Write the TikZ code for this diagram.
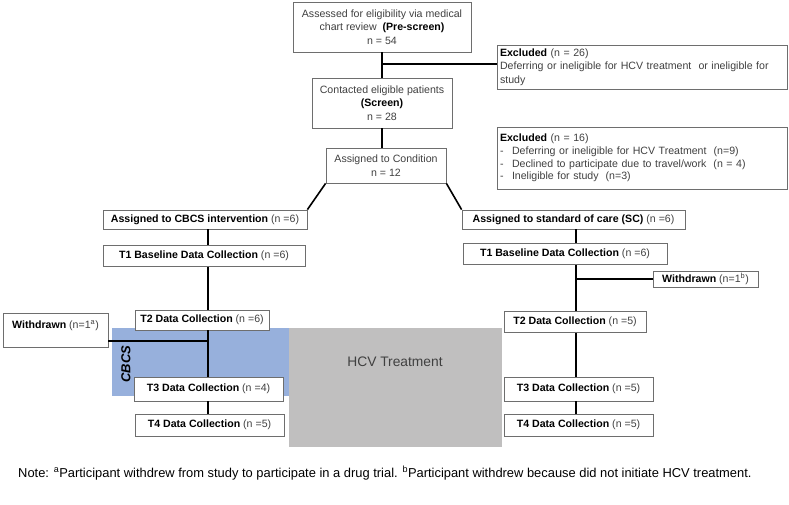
\documentclass[tikz,border=0pt]{standalone}
\usepackage{fontspec}
\setmainfont{Liberation Sans}
\definecolor{boxgray}{HTML}{6E6E6E}
\definecolor{txtgray}{HTML}{404040}
\definecolor{cbcsblue}{HTML}{97B0DC}
\definecolor{hcvgray}{HTML}{C0BFBF}
\newcommand{\nb}[1]{\textcolor{black}{\textbf{#1}}}
\begin{document}
\begin{tikzpicture}[x=1pt,y=-1pt,
  box/.style={draw=boxgray, line width=0.8pt, fill=white, inner sep=2pt,
    font=\fontsize{10.6}{13.5}\selectfont, text=txtgray, align=center},
  link/.style={line width=1.6pt, black},
]
\useasboundingbox (0,0) rectangle (789,504);
% background regions
\fill[cbcsblue] (112,328) rectangle (290,396);
\fill[hcvgray] (289,328) rectangle (502,447);
\node[font=\fontsize{13.8}{15}\selectfont, text=txtgray] (hcvtext) at (395,362) {HCV Treatment};
\node[rotate=90, font=\fontsize{13}{13}\selectfont\bfseries\itshape] (cbcslabel) at (126,364) {CBCS};

% junction coordinates
\coordinate (vl) at (208,0);
\coordinate (vr) at (576,0);
\coordinate (j1) at (382,64);
\coordinate (jl) at (208,341);
\coordinate (jr) at (576,279);

% nodes
\node[box, minimum width=178pt, minimum height=50pt] (pre) at (382,27)
  {Assessed for eligibility via medical\\chart review \ \nb{(Pre-screen)}\\n = 54};
\node[box, minimum width=290pt, minimum height=44pt, align=left, text width=284pt] (ex1) at (642,67)
  {\nb{Excluded} (n = 26)\\Deferring or ineligible for HCV treatment \ or ineligible for\\study};
\node[box, minimum width=140pt, minimum height=50pt] (screen) at (382,103)
  {Contacted eligible patients\\\nb{(Screen)}\\n = 28};
\node[box, minimum width=120pt, minimum height=35pt] (cond) at (386,165.5)
  {Assigned to Condition\\n = 12};
\node[box, minimum width=290pt, minimum height=62pt, align=left, text width=284pt,
      font=\fontsize{10.6}{12.6}\selectfont] (ex2) at (642,158)
  {\nb{Excluded} (n = 16)\\
   \makebox[12pt][l]{-}Deferring or ineligible for HCV Treatment \ (n=9)\\
   \makebox[12pt][l]{-}Declined to participate due to travel/work \ (n = 4)\\
   \makebox[12pt][l]{-}Ineligible for study \ (n=3)};
\node[box, minimum width=204pt, minimum height=19pt] (cbcs) at (205,219.5)
  {\nb{Assigned to CBCS intervention} (n =6)};
\node[box, minimum width=223pt, minimum height=19pt] (sc) at (573.5,219.5)
  {\nb{Assigned to standard of care (SC)} (n =6)};
\node[box, minimum width=202pt, minimum height=21pt] (t1l) at (204,256)
  {\nb{T1 Baseline Data Collection} (n =6)};
\node[box, minimum width=204pt, minimum height=21pt] (t1r) at (565,254)
  {\nb{T1 Baseline Data Collection} (n =6)};
\node[box, minimum width=105pt, minimum height=16pt] (wdr) at (705.5,279)
  {\nb{Withdrawn} (n=1\textsuperscript{b})};
\node[box, minimum width=134pt, minimum height=20pt] (t2l) at (202,320)
  {\nb{T2 Data Collection} (n =6)};
\node[box, minimum width=142pt, minimum height=21pt] (t2r) at (575,322)
  {\nb{T2 Data Collection} (n =5)};
\node[box, minimum width=105pt, minimum height=34pt, font=\fontsize{10.6}{11}\selectfont] (wdl) at (55.5,330)
  {\nb{Withdrawn} (n=1\textsuperscript{a})\\\mbox{}};
\node[box, minimum width=149pt, minimum height=24pt] (t3l) at (208.5,389)
  {\nb{T3 Data Collection} (n =4)};
\node[box, minimum width=149pt, minimum height=22pt] (t4l) at (209.5,425)
  {\nb{T4 Data Collection} (n =5)};
\node[box, minimum width=149pt, minimum height=24pt] (t3r) at (578.5,389)
  {\nb{T3 Data Collection} (n =5)};
\node[box, minimum width=149pt, minimum height=22pt] (t4r) at (578.5,425)
  {\nb{T4 Data Collection} (n =5)};

% connectors
\draw[link] (pre.south) -- (screen.north);
\draw[link] (j1) -- (j1 -| ex1.west);
\draw[link] (screen.south) -- (cond.north -| screen.south);
\draw[link] (cond.south west) -- (cbcs.north east);
\draw[link] (cond.south east) -- (sc.north west);
\draw[link] (cbcs.south -| vl) -- (t1l.north -| vl);
\draw[link] (t1l.south -| vl) -- (t2l.north -| vl);
\draw[link] (t2l.south -| vl) -- (t3l.north -| vl);
\draw[link] (jl -| wdl.east) -- (jl);
\draw[link] (t3l.south -| vl) -- (t4l.north -| vl);
\draw[link] (sc.south -| vr) -- (t1r.north -| vr);
\draw[link] (t1r.south -| vr) -- (t2r.north -| vr);
\draw[link] (jr) -- (jr -| wdr.west);
\draw[link] (t2r.south -| vr) -- (t3r.north -| vr);
\draw[link] (t3r.south -| vr) -- (t4r.north -| vr);

% note
\node[anchor=west, inner sep=0pt, font=\fontsize{12.9}{14}\selectfont] (note) at (18,473)
  {Note: \textsuperscript{a}Participant withdrew from study to participate in a drug trial. \textsuperscript{b}Participant withdrew because did not initiate HCV treatment.};
\end{tikzpicture}
\end{document}
